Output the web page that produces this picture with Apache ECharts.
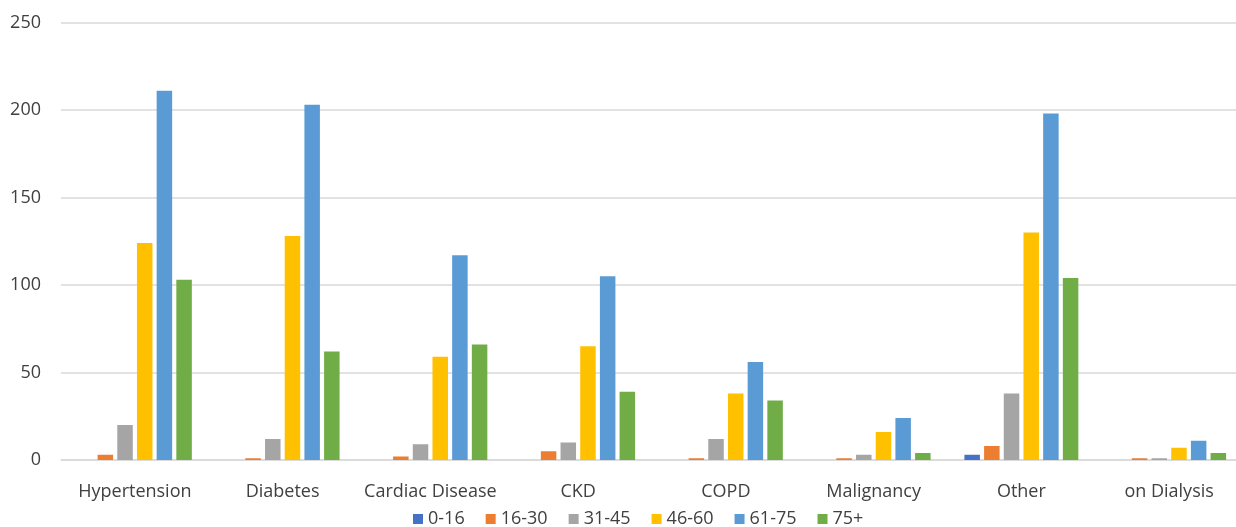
<!DOCTYPE html>
<html><head><meta charset="utf-8">
<script src="https://cdn.jsdelivr.net/npm/echarts@6/dist/echarts.min.js"></script>
<style>html,body{margin:0;padding:0;background:#fff;overflow:hidden;width:1236px;height:527px}#c{width:1250px;height:527px}</style>
</head><body><div id="c"></div>
<script>
const categories = ['Hypertension','Diabetes','Cardiac Disease','CKD','COPD','Malignancy','Other','on Dialysis'];
const seriesNames = ['0-16','16-30','31-45','46-60','61-75','75+'];
const s0_16  = [0, 0, 0, 0, 0, 0, 3, 0];
const s16_30 = [3, 1, 2, 5, 1, 1, 8, 1];
const s31_45 = [20, 12, 9, 10, 12, 3, 38, 1];
const s46_60 = [124, 128, 59, 65, 38, 16, 130, 7];
const s61_75 = [211, 203, 117, 105, 56, 24, 198, 11];
const s75p   = [103, 62, 66, 39, 34, 4, 104, 4];
const colors = ['#4472C4','#ED7D31','#A5A5A5','#FFC000','#5B9BD5','#70AD47'];
const allData = [s0_16, s16_30, s31_45, s46_60, s61_75, s75p];
const font = '"Open Sans", "Noto Sans", sans-serif';
const chart = echarts.init(document.getElementById('c'));
chart.setOption({
  animation: false,
  color: colors,
  textStyle: {fontFamily: font},
  grid: {left: 61, top: 22.5, width: 1182, height: 437.5, containLabel: false},
  legend: {
    top: 505, left: 408, itemWidth: 10, itemHeight: 10, itemGap: 21,
    icon: 'rect', textStyle: {fontFamily: font, fontSize: 18, color: '#404040'},
    data: seriesNames
  },
  xAxis: {
    type: 'category', data: categories,
    axisLine: {lineStyle: {color: '#d9d9d9', width: 1.5}},
    axisTick: {show: false},
    axisLabel: {fontFamily: font, fontSize: 18, color: '#404040', margin: 23, interval: 0}
  },
  yAxis: {
    type: 'value', min: 0, max: 250, interval: 50,
    axisLine: {show: false}, axisTick: {show: false},
    splitLine: {lineStyle: {color: '#d9d9d9', width: 1.5}},
    axisLabel: {fontFamily: font, fontSize: 18, color: '#404040', margin: 20}
  },
  series: seriesNames.map((n, i) => ({
    name: n, type: 'bar', data: allData[i], barWidth: 15.5, barGap: '27%'
  }))
});
</script></body></html>
